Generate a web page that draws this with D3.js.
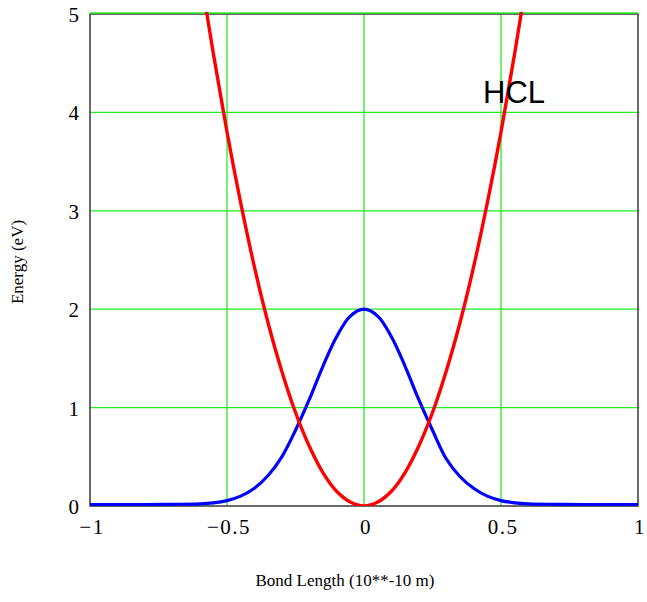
<!DOCTYPE html>
<html>
<head>
<meta charset="utf-8">
<script src="https://cdnjs.cloudflare.com/ajax/libs/d3/7.8.5/d3.min.js"></script>
<style>
  body { margin: 0; background: #fff; }
  svg { display: block; }
</style>
</head>
<body>
<svg width="647" height="602"></svg>
<script>
// potential curve (red)
var potX = [-0.6, -0.55, -0.5, -0.45, -0.4, -0.35, -0.3, -0.25, -0.2, -0.15, -0.1, -0.05, 0,
  0.05, 0.1, 0.15, 0.2, 0.25, 0.3, 0.35, 0.4, 0.45, 0.5, 0.55, 0.6];
var potE = [5.47, 4.6, 3.8, 3.08, 2.43, 1.86, 1.37, 0.95, 0.61, 0.34, 0.15, 0.04, 0,
  0.04, 0.15, 0.34, 0.61, 0.95, 1.37, 1.86, 2.43, 3.08, 3.8, 4.6, 5.47];

// probability curve (blue)
var probX = [-1, -0.8, -0.7, -0.6, -0.55, -0.5, -0.45, -0.4, -0.35, -0.3, -0.25, -0.2, -0.15, -0.1, -0.05, 0,
  0.05, 0.1, 0.15, 0.2, 0.25, 0.3, 0.35, 0.4, 0.45, 0.5, 0.55, 0.6, 0.7, 0.8, 1];
var probE = [0.015, 0.015, 0.017, 0.022, 0.032, 0.055, 0.1, 0.18, 0.31, 0.5, 0.77, 1.08, 1.42, 1.72, 1.93, 2.0,
  1.93, 1.72, 1.42, 1.08, 0.77, 0.48, 0.3, 0.18, 0.1, 0.055, 0.032, 0.022, 0.017, 0.015, 0.015];

var xTicks = [-1, -0.5, 0, 0.5, 1];
var xTickLabels = ["\u22121", "\u22120.5", "0", "0.5", "1"];
var yTicks = [0, 1, 2, 3, 4, 5];

var svg = d3.select("svg"),
  pLeft = 90, pTop = 14, pRight = 638, pBottom = 506;

var x = d3.scaleLinear().domain([-1, 1]).range([pLeft, pRight]);
var y = d3.scaleLinear().domain([0, 5]).range([pBottom, pTop]);

svg.append("clipPath").attr("id", "clip")
  .append("rect")
  .attr("x", pLeft).attr("y", pTop - 2)
  .attr("width", pRight - pLeft).attr("height", pBottom - pTop + 2);

// green grid
var grid = svg.append("g").attr("stroke", "#22ee22").attr("stroke-width", 1.3);
grid.selectAll("line.v")
  .data([-0.5, 0, 0.5])
  .enter().append("line")
  .attr("x1", function (d) { return x(d); })
  .attr("x2", function (d) { return x(d); })
  .attr("y1", pTop).attr("y2", pBottom);
grid.selectAll("line.h")
  .data([1, 2, 3, 4])
  .enter().append("line")
  .attr("x1", pLeft).attr("x2", pRight)
  .attr("y1", function (d) { return y(d); })
  .attr("y2", function (d) { return y(d); });

// frame
svg.append("rect")
  .attr("x", pLeft).attr("y", pTop)
  .attr("width", pRight - pLeft).attr("height", pBottom - pTop)
  .attr("fill", "none").attr("stroke", "#444").attr("stroke-width", 1.6);

// green top line sits over the frame
svg.append("line")
  .attr("x1", pLeft).attr("x2", pRight)
  .attr("y1", y(5) - 1).attr("y2", y(5) - 1)
  .attr("stroke", "#22ee22").attr("stroke-width", 1.3);

var line = d3.line()
  .x(function (d) { return x(d[0]); })
  .y(function (d) { return y(d[1]); })
  .curve(d3.curveCatmullRom);

var plot = svg.append("g").attr("clip-path", "url(#clip)");

plot.append("path")
  .datum(d3.zip(probX, probE))
  .attr("d", line)
  .attr("fill", "none").attr("stroke", "#0000ff").attr("stroke-width", 3.2);

plot.append("path")
  .datum(d3.zip(potX, potE))
  .attr("d", line)
  .attr("fill", "none").attr("stroke", "#ff0000").attr("stroke-width", 3.4);

// tick labels
svg.selectAll("text.ytick")
  .data(yTicks)
  .enter().append("text")
  .attr("class", "ytick")
  .attr("x", 79)
  .attr("y", function (d) { return y(d) + 8; })
  .attr("text-anchor", "end")
  .style("font-family", "'Liberation Serif', 'Times New Roman', serif")
  .style("font-size", "21px")
  .text(function (d) { return d; });

svg.selectAll("text.xtick")
  .data(xTicks)
  .enter().append("text")
  .attr("class", "xtick")
  .attr("x", function (d) { return x(d) + 2; })
  .attr("y", 534)
  .attr("text-anchor", "middle")
  .style("font-family", "'Liberation Serif', 'Times New Roman', serif")
  .style("font-size", "21px")
  .style("letter-spacing", "1.5px")
  .text(function (d, i) { return xTickLabels[i]; });

// axis titles
svg.append("text")
  .attr("transform", "translate(23,262) rotate(-90)")
  .attr("text-anchor", "middle")
  .style("font-family", "'Liberation Serif', 'Times New Roman', serif")
  .style("font-size", "17px")
  .text("Energy (eV)");

svg.append("text")
  .attr("x", 345).attr("y", 586)
  .attr("text-anchor", "middle")
  .style("font-family", "'Liberation Serif', 'Times New Roman', serif")
  .style("font-size", "17px")
  .text("Bond Length (10**-10 m)");

svg.append("text")
  .attr("x", 483).attr("y", 103)
  .style("font-family", "'Liberation Sans', Arial, sans-serif")
  .style("font-size", "31px")
  .text("HCL");
</script>
</body>
</html>
